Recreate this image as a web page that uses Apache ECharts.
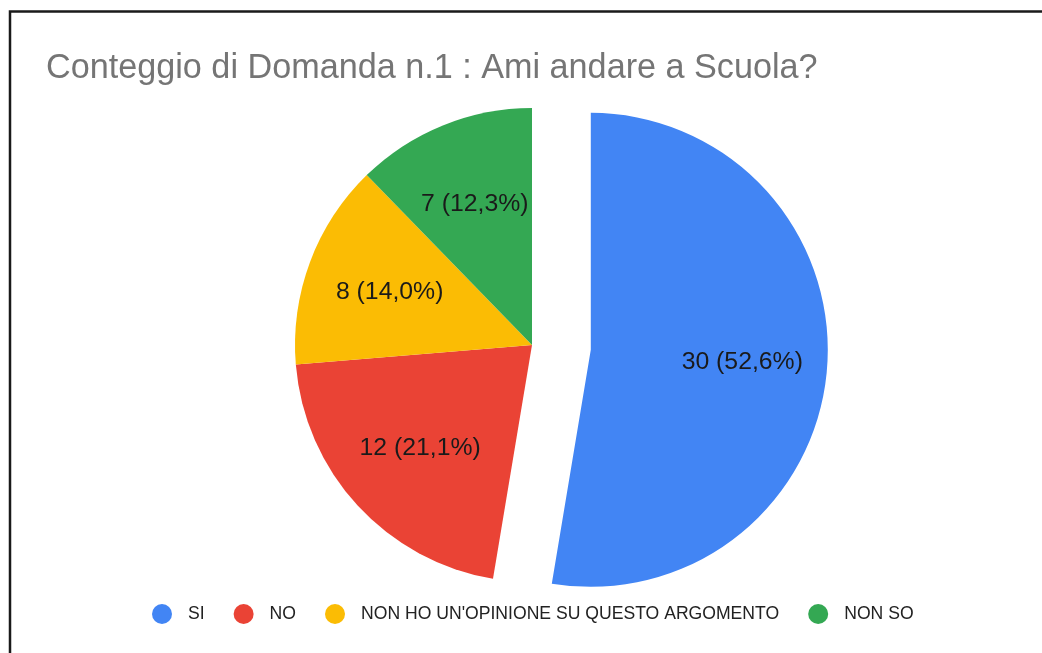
<!DOCTYPE html>
<html>
<head>
<meta charset="utf-8">
<script src="https://cdn.jsdelivr.net/npm/echarts@6/dist/echarts.min.js"></script>
<style>
  html, body { margin: 0; padding: 0; background: #fff; }
  #chart { width: 1042px; height: 653px; }
</style>
</head>
<body>
<div id="chart"></div>
<script>
var categories = ['SI', 'NO', "NON HO UN'OPINIONE SU QUESTO ARGOMENTO", 'NON SO'];
var counts = [30, 12, 8, 7];
var colors = ['#4285F4', '#EA4335', '#FBBC04', '#34A853'];

var total = counts.reduce(function (a, b) { return a + b; }, 0);

// fette vere + serie trasparente solo per le etichette (più lontane dal centro)
var sliceData = [];
var labelData = [];
categories.forEach(function (name, i) {
    sliceData.push({
        name: name,
        value: counts[i],
        selected: i === 0,
        itemStyle: {color: colors[i]}
    });
    labelData.push({
        name: name,
        value: counts[i],
        selected: i === 0
    });
});

var dom = document.getElementById('chart');
var myChart = echarts.init(dom);

var option = {
    animation: false,
    title: {
        text: 'Conteggio di Domanda n.1 : Ami andare a Scuola?',
        left: 41,
        top: 47,
        textStyle: {
            fontFamily: 'Liberation Sans, Arial, sans-serif',
            fontSize: 34.2,
            fontWeight: 'normal',
            color: '#757575'
        }
    },
    legend: {
        left: 152,
        top: 604,
        padding: 0,
        icon: 'circle',
        itemWidth: 20,
        itemHeight: 20,
        itemGap: 29,
        data: categories,
        textStyle: {
            fontFamily: 'Liberation Sans, Arial, sans-serif',
            fontSize: 17.6,
            color: '#222',
            padding: [0, 0, 0, 11]
        }
    },
    graphic: [{
        type: 'rect',
        shape: {x: 10, y: 11.5, width: 1100, height: 700},
        style: {fill: 'none', stroke: '#1a1a1a', lineWidth: 2.5},
        silent: true
    }],
    series: [
        {
            name: 'Conteggio',
            type: 'pie',
            center: [532, 345],
            radius: [0, 237],
            startAngle: 90,
            clockwise: true,
            selectedMode: 'single',
            selectedOffset: 59,
            label: {show: false},
            labelLine: {show: false},
            emphasis: {scale: false},
            data: sliceData
        },
        {
            name: 'Etichette',
            type: 'pie',
            center: [532, 345],
            radius: [0, 298],
            startAngle: 90,
            clockwise: true,
            selectedMode: 'single',
            selectedOffset: 59,
            silent: true,
            itemStyle: {color: 'rgba(0,0,0,0)'},
            emphasis: {scale: false},
            labelLine: {show: false},
            label: {
                show: true,
                position: 'inside',
                fontFamily: 'Liberation Sans, Arial, sans-serif',
                fontSize: 24.8,
                color: '#1a1a1a',
                formatter: function (p) {
                    var pct = (p.value / total * 100).toFixed(1).replace('.', ',');
                    return p.value + ' (' + pct + '%)';
                }
            },
            data: labelData
        }
    ]
};

if (option && typeof option === 'object') {
    myChart.setOption(option, true);
}
</script>
</body>
</html>
